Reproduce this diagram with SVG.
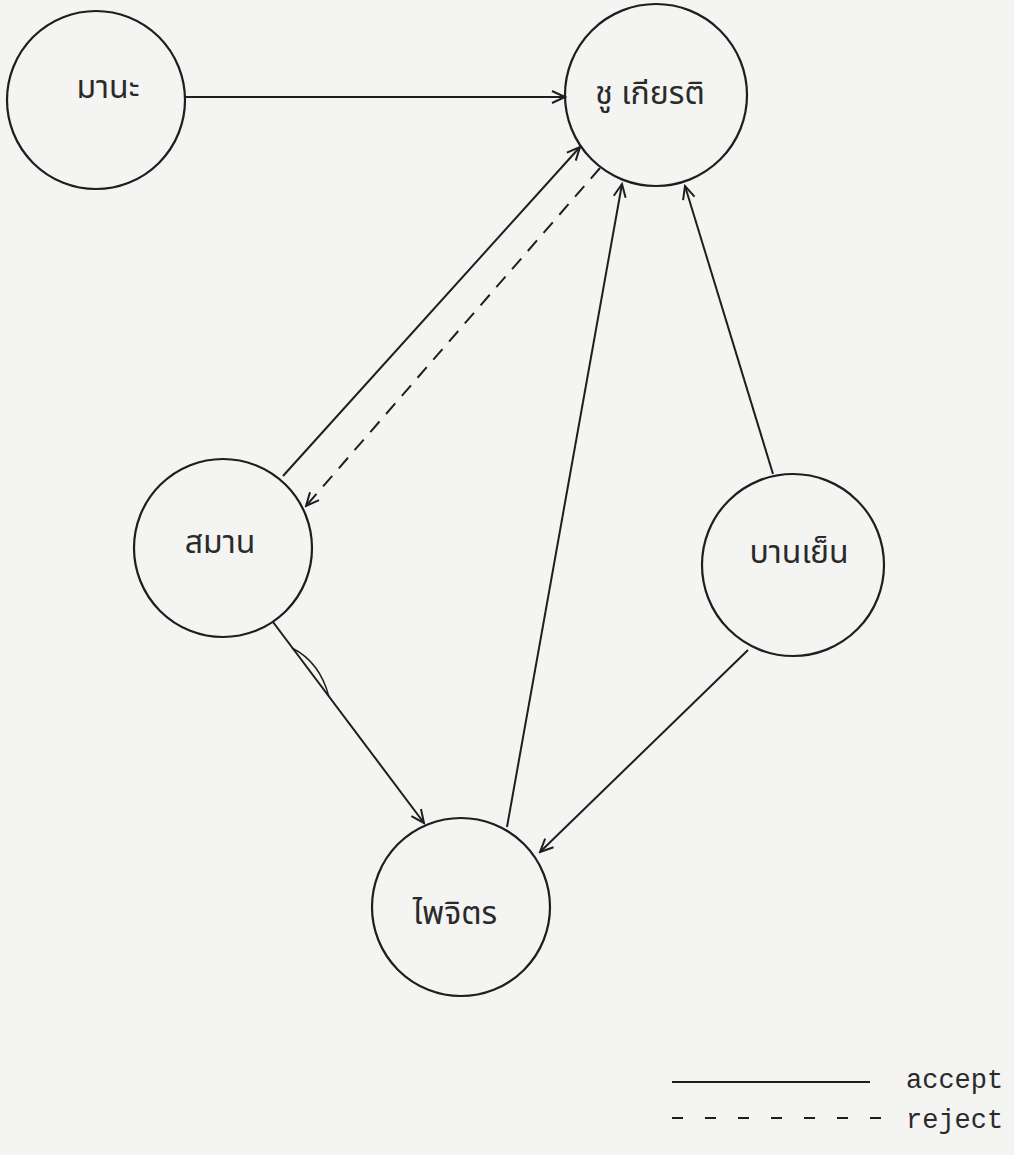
<svg xmlns="http://www.w3.org/2000/svg" width="1014" height="1155" viewBox="0 0 1014 1155">
  <style>
    .node circle { fill: none; stroke: #1e1e1e; stroke-width: 2.2; }
    .label { font-family: "Noto Sans Thai", "Loma", "Garuda", "Norasi", "Tlwg Typo", "DejaVu Sans", sans-serif; font-size: 32px; fill: #2a2a2a; text-anchor: middle; }
    .edge { fill: none; stroke: #1e1e1e; stroke-width: 2; }
    .reject { stroke-dasharray: 14 10; }
    .legend { font-family: "Liberation Mono", "Courier New", monospace; font-size: 27px; fill: #2a2a2a; }
  </style>
  <defs>
    <marker id="arrow" viewBox="-14 -8 16 16" refX="0" refY="0" markerWidth="16" markerHeight="16" markerUnits="userSpaceOnUse" orient="auto">
      <path d="M-13,-6 L0,0 L-13,6" fill="none" stroke="#1e1e1e" stroke-width="2"/>
    </marker>
  </defs>
  <rect x="0" y="0" width="1014" height="1155" fill="#f4f4f2"/>

  <g id="node-mana" class="node">
    <circle cx="96" cy="100" r="89"/>
    <text class="label" x="108" y="98">มานะ</text>
  </g>
  <g id="node-chukiat" class="node">
    <circle cx="656" cy="95" r="91"/>
    <text class="label" x="650" y="104">ชู เกียรติ</text>
  </g>
  <g id="node-saman" class="node">
    <circle cx="223" cy="548" r="89"/>
    <text class="label" x="220" y="553">สมาน</text>
  </g>
  <g id="node-banyen" class="node">
    <circle cx="793" cy="565" r="91"/>
    <text class="label" x="799" y="563">บานเย็น</text>
  </g>
  <g id="node-phaichit" class="node">
    <circle cx="461" cy="907" r="89"/>
    <text class="label" x="455" y="924">ไพจิตร</text>
  </g>

  <g id="connectors">
    <path class="edge" d="M185,97 L565,97" marker-end="url(#arrow)"/>
    <path class="edge" d="M283,476 L580,147" marker-end="url(#arrow)"/>
    <path class="edge reject" d="M600,168 L306,506" marker-end="url(#arrow)"/>
    <path class="edge" d="M507,827 L622,184" marker-end="url(#arrow)"/>
    <path class="edge" d="M773,474 L685,186" marker-end="url(#arrow)"/>
    <path class="edge" d="M273,622 L424,823" marker-end="url(#arrow)"/>
    <path class="edge" d="M748,650 L540,852" marker-end="url(#arrow)"/>
    <path class="edge" style="stroke-width:1.4" d="M292,648 Q320,662 329,697"/>
  </g>

  <g id="legend">
    <line class="edge" x1="672" y1="1082" x2="870" y2="1082"/>
    <text class="legend" x="906" y="1088">accept</text>
    <line class="edge" x1="672" y1="1118" x2="885" y2="1118" stroke-dasharray="11 22"/>
    <text class="legend" x="906" y="1128">reject</text>
  </g>
</svg>
